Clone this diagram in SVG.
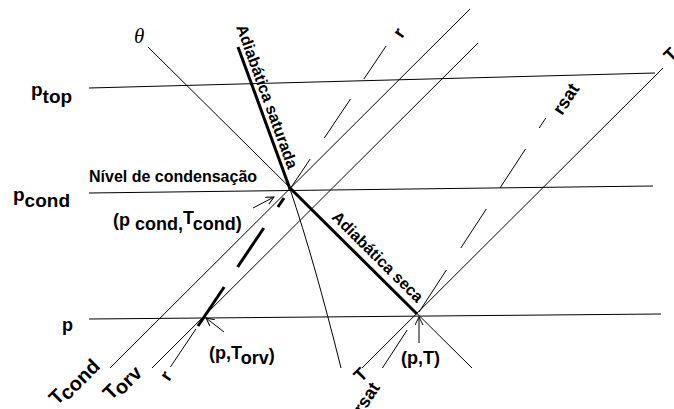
<svg xmlns="http://www.w3.org/2000/svg" width="674" height="409" viewBox="0 0 674 409">
<defs>
<marker id="ah" markerWidth="10" markerHeight="10" refX="8" refY="4" orient="auto" markerUnits="userSpaceOnUse"><path d="M0,0 L8,4 L0,8" fill="none" stroke="#000" stroke-width="1"/></marker>
</defs>
<style>
.l{stroke:#000;stroke-width:1;fill:none}
.k{stroke:#000;stroke-width:3;fill:none}
.a{stroke:#000;stroke-width:1;fill:none;marker-end:url(#ah)}
text{font-family:"Liberation Sans",Arial,Helvetica,sans-serif;font-weight:bold;fill:#000;font-size:18px}
.s16{font-size:16px}
.s19{font-size:19px}
.s20{font-size:20px}
.th{font-family:"Liberation Serif","Times New Roman",serif;font-style:italic;font-weight:normal;font-size:21px}
</style>
<rect width="674" height="409" fill="#fff"/>
<g id="isobars">
<line class="l" x1="89" y1="88" x2="655" y2="73"/>
<line class="l" x1="89" y1="193" x2="653" y2="186"/>
<line class="l" x1="89" y1="319" x2="661" y2="314"/>
</g>
<g id="isotherms">
<line class="l" x1="110" y1="368" x2="470" y2="9"/>
<line class="l" x1="152" y1="368" x2="478" y2="43"/>
<line class="l" x1="362" y1="368" x2="663" y2="68"/>
</g>
<g id="dry-adiabat">
<line class="l" x1="148" y1="47" x2="472" y2="368"/>
<line class="k" x1="290" y1="188" x2="417" y2="314"/>
</g>
<g id="saturated-adiabat">
<line class="k" x1="238" y1="47" x2="290" y2="189"/>
<path class="l" d="M290,189 Q314.5,261.5 341,368"/>
</g>
<g id="mixing-ratio-r">
<line class="l" x1="170.4" y1="367" x2="195.9" y2="329"/>
<line class="k" x1="198" y1="326" x2="224.2" y2="287"/>
<line class="k" x1="237.6" y1="267" x2="263.8" y2="228"/>
<line class="k" x1="277.9" y1="207" x2="284" y2="198"/>
<line class="l" x1="290" y1="189" x2="310.2" y2="159"/>
<line class="l" x1="324.3" y1="138" x2="350.5" y2="99"/>
<line class="l" x1="363.9" y1="79" x2="386.1" y2="46"/>
</g>
<g id="mixing-ratio-rsat">
<line class="l" x1="382.4" y1="368" x2="407.2" y2="330"/>
<line class="l" x1="419" y1="312" x2="446.4" y2="270"/>
<line class="l" x1="460.8" y1="248" x2="486.3" y2="209"/>
<line class="l" x1="500" y1="188" x2="525.5" y2="149"/>
<line class="l" x1="539.2" y1="128" x2="545.8" y2="118"/>
</g>
<g id="connectors">
<line class="a" x1="253" y1="208" x2="274" y2="197"/>
<line class="a" x1="224" y1="332" x2="206" y2="318"/>
<line class="a" x1="419" y1="343" x2="419" y2="317"/>
</g>
<g id="labels">
<text class="s19" x="31" y="96">p<tspan dy="7">top</tspan></text>
<text class="s19" x="13" y="201">p<tspan dy="6">cond</tspan></text>
<text x="62" y="331">p</text>
<text class="s16" x="89" y="182">Nível de condensação</text>
<text x="113" y="226">(p<tspan dy="4"> cond,</tspan><tspan dy="-6">T</tspan><tspan dy="6">cond</tspan><tspan dy="-1">)</tspan></text>
<text x="209" y="359">(p,T<tspan dy="5">orv</tspan><tspan dy="-3">)</tspan></text>
<text x="401" y="364">(p,T)</text>
<text class="s16" transform="translate(236,27) rotate(70)">Adiabática saturada</text>
<text class="s16" transform="translate(331,218) rotate(44.8)">Adiabática seca</text>
<text class="th" x="134" y="43">θ</text>
<text transform="translate(402,39) rotate(-56)">r</text>
<text transform="translate(562,116) rotate(-56.8)">rsat</text>
<text transform="translate(671,63) rotate(-45)">T</text>
<text class="s20" transform="translate(57,406) rotate(-45)">T<tspan dy="4">cond</tspan></text>
<text class="s20" transform="translate(111,401) rotate(-45)">T<tspan dy="4">orv</tspan></text>
<text transform="translate(169,382) rotate(-56)">r</text>
<text transform="translate(361,383) rotate(-45)">T</text>
<text transform="translate(362.5,415) rotate(-56.8)">rsat</text>
</g>
</svg>
